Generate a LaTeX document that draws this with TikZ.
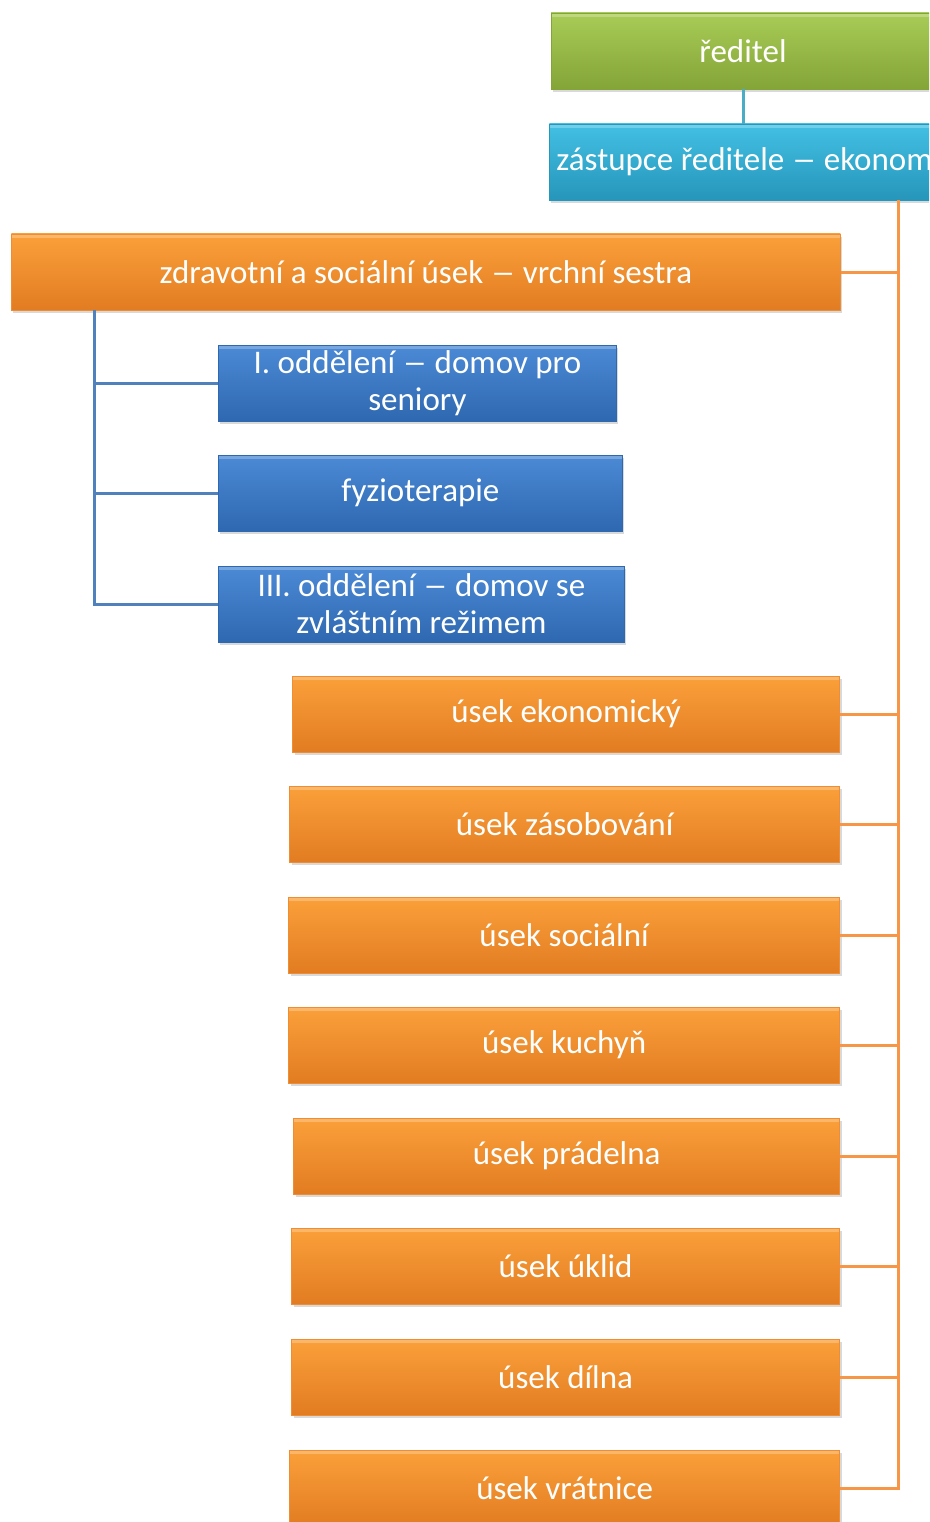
\documentclass[tikz,border=0pt]{standalone}
\usepackage{fontspec}
\setmainfont{Carlito}
\usetikzlibrary{shadows}

\definecolor{orangetop}{RGB}{250,160,58}
\definecolor{orangebot}{RGB}{226,124,34}
\definecolor{orangeedge}{RGB}{240,140,50}
\definecolor{orangeline}{RGB}{247,150,70}
\definecolor{greentop}{RGB}{168,204,86}
\definecolor{greenbot}{RGB}{132,164,56}
\definecolor{cyantop}{RGB}{66,192,228}
\definecolor{cyanbot}{RGB}{38,150,186}
\definecolor{cyanline}{RGB}{75,172,198}
\definecolor{bluetop}{RGB}{76,138,214}
\definecolor{bluebot}{RGB}{46,104,176}
\definecolor{blueline}{RGB}{79,129,189}

\newcommand{\pomlcka}{\scalebox{1.5}[1]{–}}

\tikzset{
  box/.style={minimum height=76pt, inner xsep=7pt, inner ysep=0pt, text=white, align=center,
    font=\fontsize{33}{37}\selectfont, line width=.8pt,
    drop shadow={shadow xshift=2pt, shadow yshift=-3pt, opacity=.3},
    path picture={\fill[white,opacity=.25] (path picture bounding box.north west) rectangle ([yshift=-4pt]path picture bounding box.north east);}},
  orangebox/.style={box, top color=orangetop, bottom color=orangebot, draw=orangeedge},
  greenbox/.style={box, top color=greentop, bottom color=greenbot, draw=greenbot},
  cyanbox/.style={box, top color=cyantop, bottom color=cyanbot, draw=cyanbot},
  bluebox/.style={box, top color=bluetop, bottom color=bluebot, draw=bluebot},
  link/.style={line width=3pt}
}

\begin{document}
\begin{tikzpicture}[x=1pt, y=-1pt]
\useasboundingbox (0,0) rectangle (929,1522);
\clip (0,0) rectangle (929,1522);

% top of the chart
\node[greenbox, minimum width=384pt] (reditel) at (743,51) {ředitel};
\node[cyanbox, anchor=west, text width=420pt, align=flush left] (zast) at (549,162) {zástupce ředitele \pomlcka{} ekonom};
\draw[link, cyanline] (reditel.south) -- (reditel.south |- zast.north);

% zdravotni a socialni usek
\node[orangebox, anchor=west, minimum width=829pt] (zdrav) at (11,272) {zdravotní a sociální úsek \pomlcka{} vrchní sestra};
\node[bluebox, anchor=west, minimum width=398pt] (odd1) at (218,383) {I. oddělení \pomlcka{} domov pro\\seniory};
\node[bluebox, anchor=west, minimum width=404pt] (fyzio) at (218,493) {fyzioterapie};
\node[bluebox, anchor=west, minimum width=406pt] (odd3) at (218,604) {III. oddělení \pomlcka{} domov se\\zvláštním režimem};

% ostatni useky
\foreach \nm/\xl/\yc/\txt in {eko/293/714/úsek ekonomický, zas/290/824/úsek zásobování,
  soc/289/935/úsek sociální, kuch/289/1045/úsek kuchyň, prad/294/1156/úsek prádelna,
  ukl/292/1266/úsek úklid, diln/292/1377/úsek dílna, vrat/290/1488/úsek vrátnice} {
  \node[orangebox, anchor=east, minimum width={840-\xl}] (\nm) at (840,\yc) {\txt};
}

% spojnice
\coordinate (bus) at (898,0);
\coordinate (sbus) at (94,0);
\draw[link, orangeline] (zast.south -| bus) |- (vrat.east);
\foreach \nm in {zdrav,eko,zas,soc,kuch,prad,ukl,diln}
  \draw[link, orangeline] (\nm.east) -- (\nm.east -| bus);
\draw[link, blueline] (zdrav.south -| sbus) |- (odd3.west);
\foreach \nm in {odd1,fyzio}
  \draw[link, blueline] (\nm.west) -- (\nm.west -| sbus);
\end{tikzpicture}
\end{document}
